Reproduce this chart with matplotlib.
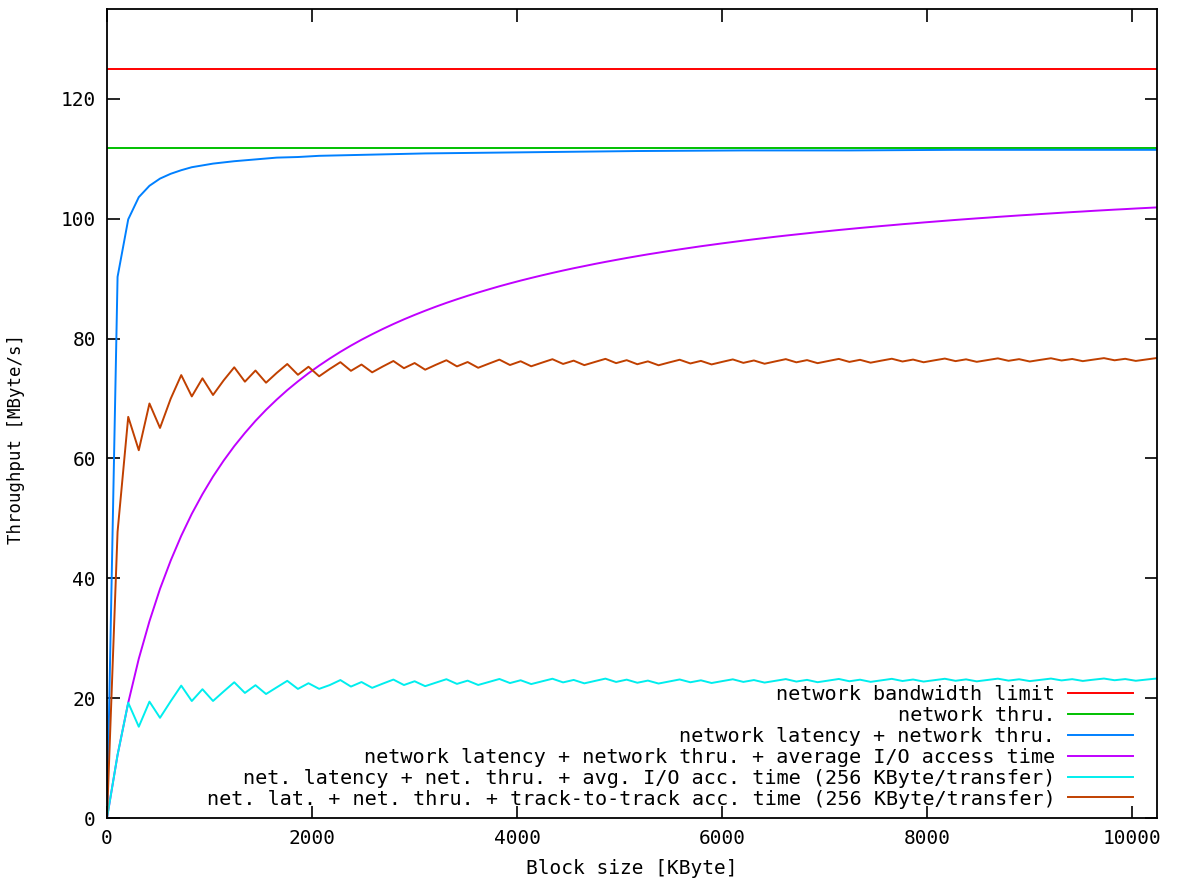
"""Block size vs. throughput chart (gnuplot look) using matplotlib."""

import matplotlib
matplotlib.use("Agg")  # Non-interactive backend
import matplotlib.pyplot as plt

# sample positions (KByte), 100 samples over 0..10240
block_kb = [
    0, 103, 207, 310, 414, 517, 621, 724, 827, 931,
    1034, 1138, 1241, 1345, 1448, 1551, 1655, 1758, 1862, 1965,
    2069, 2172, 2276, 2379, 2482, 2586, 2689, 2793, 2896, 3000,
    3103, 3206, 3310, 3413, 3517, 3620, 3724, 3827, 3930, 4034,
    4137, 4241, 4344, 4448, 4551, 4655, 4758, 4861, 4965, 5068,
    5172, 5275, 5379, 5482, 5585, 5689, 5792, 5896, 5999, 6103,
    6206, 6309, 6413, 6516, 6620, 6723, 6827, 6930, 7034, 7137,
    7240, 7344, 7447, 7551, 7654, 7758, 7861, 7964, 8068, 8171,
    8275, 8378, 8482, 8585, 8688, 8792, 8895, 8999, 9102, 9206,
    9309, 9413, 9516, 9619, 9723, 9826, 9930, 10033, 10137, 10240,
]

limit_kb = [0, 10240]
bandwidth_limit = [125.0, 125.0]
network_thru = [111.8, 111.8]

latency_kb = [0, 103, 207, 310, 414, 517, 621, 724, 827, 931, 1034, 1241, 1448,
              1655, 1862, 2069, 2586, 3103, 3620, 4137, 5172, 6206, 7240, 8275,
              9309, 10240]
latency_thru = [0, 90.3, 99.9, 103.6, 105.5, 106.7, 107.5, 108.1, 108.6, 108.9,
                109.2, 109.6, 109.9, 110.2, 110.3, 110.5, 110.7, 110.9, 111.0,
                111.1, 111.3, 111.4, 111.4, 111.5, 111.5, 111.5]

avg_access = [
    0, 10.52, 19.24, 26.58, 32.83, 38.24, 42.95, 47.09, 50.76, 54.04,
    56.98, 59.64, 62.05, 64.25, 66.27, 68.11, 69.82, 71.40, 72.86, 74.22,
    75.49, 76.67, 77.79, 78.83, 79.81, 80.73, 81.60, 82.43, 83.21, 83.95,
    84.65, 85.32, 85.96, 86.56, 87.14, 87.69, 88.22, 88.73, 89.21, 89.68,
    90.12, 90.55, 90.96, 91.36, 91.74, 92.10, 92.46, 92.80, 93.13, 93.45,
    93.76, 94.06, 94.34, 94.62, 94.89, 95.15, 95.41, 95.65, 95.89, 96.12,
    96.35, 96.57, 96.78, 96.99, 97.19, 97.38, 97.57, 97.76, 97.94, 98.12,
    98.29, 98.46, 98.62, 98.78, 98.93, 99.09, 99.23, 99.38, 99.52, 99.66,
    99.80, 99.93, 100.06, 100.18, 100.31, 100.43, 100.55, 100.66, 100.78, 100.89,
    101.00, 101.11, 101.21, 101.32, 101.42, 101.52, 101.61, 101.71, 101.80, 101.89,
]

avg_access_256 = [
    0, 10.52, 19.24, 15.23, 19.42, 16.72, 19.48, 22.09, 19.52, 21.49,
    19.53, 21.12, 22.65, 20.87, 22.16, 20.69, 21.80, 22.89, 21.54, 22.49,
    21.55, 22.18, 23.02, 21.93, 22.69, 21.72, 22.42, 23.10, 22.19, 22.82,
    22.00, 22.58, 23.16, 22.38, 22.92, 22.20, 22.70, 23.20, 22.52, 22.99,
    22.35, 22.80, 23.24, 22.63, 23.04, 22.47, 22.87, 23.26, 22.71, 23.09,
    22.57, 22.93, 22.44, 22.78, 23.12, 22.65, 22.98, 22.53, 22.84, 23.15,
    22.71, 23.02, 22.60, 22.89, 23.18, 22.77, 23.05, 22.66, 22.93, 23.20,
    22.82, 23.08, 22.72, 22.97, 23.22, 22.86, 23.11, 22.77, 23.00, 23.23,
    22.90, 23.13, 22.81, 23.03, 23.25, 22.93, 23.15, 22.85, 23.05, 23.26,
    22.96, 23.17, 22.88, 23.08, 23.27, 22.99, 23.18, 22.91, 23.10, 23.28,
]

track_access_256 = [
    0, 47.76, 66.94, 61.37, 69.17, 65.09, 69.96, 73.91, 70.35, 73.37,
    70.59, 73.04, 75.21, 72.81, 74.67, 72.64, 74.27, 75.76, 73.96, 75.30,
    73.71, 74.93, 76.07, 74.62, 75.67, 74.37, 75.34, 76.26, 75.06, 75.92,
    74.81, 75.62, 76.39, 75.36, 76.09, 75.13, 75.82, 76.49, 75.59, 76.22,
    75.38, 75.98, 76.56, 75.77, 76.32, 75.57, 76.10, 76.62, 75.90, 76.40,
    75.72, 76.20, 75.55, 76.02, 76.47, 75.85, 76.28, 75.69, 76.11, 76.52,
    75.95, 76.35, 75.80, 76.19, 76.57, 76.04, 76.41, 75.90, 76.26, 76.61,
    76.11, 76.46, 75.98, 76.32, 76.64, 76.18, 76.50, 76.05, 76.37, 76.67,
    76.24, 76.54, 76.12, 76.41, 76.70, 76.29, 76.57, 76.17, 76.45, 76.72,
    76.34, 76.60, 76.23, 76.49, 76.74, 76.38, 76.63, 76.27, 76.52, 76.76,
]

labels = [
    "network bandwidth limit",
    "network thru.",
    "network latency + network thru.",
    "network latency + network thru. + average I/O access time",
    "net. latency + net. thru. + avg. I/O acc. time (256 KByte/transfer)",
    "net. lat. + net. thru. + track-to-track acc. time (256 KByte/transfer)",
]
colors = ["#ff0000", "#00c000", "#0080ff", "#c000ff", "#00eeee", "#c04000"]

x_ticks = [0, 2000, 4000, 6000, 8000, 10000]
y_ticks = [0, 20, 40, 60, 80, 100, 120]

plt.rcParams["font.family"] = ["DejaVu Sans Mono"]

fig = plt.figure(figsize=(11.78, 8.81), dpi=100)
ax = fig.add_axes([107 / 1178, 1 - 818 / 881, 1050 / 1178, 809 / 881])

series = [
    (limit_kb, bandwidth_limit),
    (limit_kb, network_thru),
    (latency_kb, latency_thru),
    (block_kb, avg_access),
    (block_kb, avg_access_256),
    (block_kb, track_access_256),
]
for (xs, ys), label, color in zip(series, labels, colors):
    ax.plot(xs, ys, color=color, linewidth=1.4, label=label)

ax.set_xlim(0, 10240)
ax.set_ylim(0, 135)
ax.set_xticks(x_ticks)
ax.set_yticks(y_ticks)
ax.tick_params(direction="in", length=9, width=1.2, top=True, right=True,
               labelsize=14, pad=8)
for spine in ax.spines.values():
    spine.set_linewidth(1.3)

ax.set_xlabel("Block size [KByte]", fontsize=14, labelpad=8)
ax.set_ylabel("Throughput [MByte/s]", fontsize=12.5)
ax.yaxis.set_label_coords(-0.078, 0.468)

ax.legend(loc="lower right", bbox_to_anchor=(0.977, 0.0117), frameon=False,
          markerfirst=False, fontsize=14.5, handlelength=3.2, handletextpad=0.65,
          labelspacing=0.09, borderaxespad=0, borderpad=0)

fig.savefig("out.png", dpi=100)
plt.close(fig)
